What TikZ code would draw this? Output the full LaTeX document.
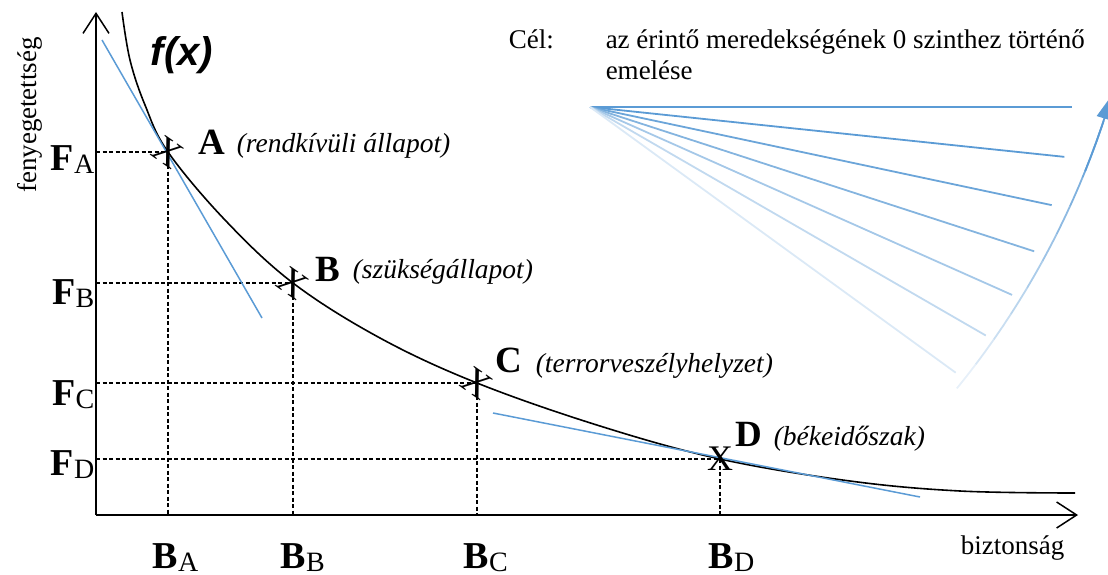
\documentclass[tikz,border=0pt]{standalone}
\usepackage{fontspec}
\setmainfont{Liberation Serif}
\newfontfamily\fxfont{Liberation Sans}
\usetikzlibrary{arrows.meta}
\definecolor{tanblue}{RGB}{91,155,213}
\newcommand{\axlbl}[2]{\textbf{#1}\raisebox{-3pt}{\fontsize{28}{30}\selectfont #2}}

\begin{document}
\begin{tikzpicture}[x=1pt,y=-1pt,line width=1.5pt,every node/.style={inner sep=0pt},
  big/.style={font=\fontsize{38}{40}\selectfont},
  ptlbl/.style={font=\fontsize{37}{40}\selectfont\bfseries},
  txt/.style={font=\fontsize{27}{30}\selectfont},
  note/.style={font=\fontsize{27.5}{30}\selectfont\itshape},
  cross/.style={font=\fontsize{38}{40}\selectfont},
  guide/.style={line width=1.3pt,dash pattern=on 4pt off 2.5pt}]
\useasboundingbox (0,0) rectangle (1108,575);
\coordinate (O) at (96,515);
\coordinate (Ytop) at (96,12);
\coordinate (Xend) at (1078,515);
\coordinate (A) at (168,152);
\coordinate (B) at (293,283);
\coordinate (C) at (477,383);
\coordinate (D) at (720,459);
\coordinate (TA1) at (102,40);
\coordinate (TA2) at (262,318);
\coordinate (TD1) at (493,413);
\coordinate (TD2) at (920,497);
\coordinate (fan) at (590,107);
% axes
\draw[-{Straight Barb[length=20pt,width=26pt]}] (O) -- (Ytop);
\draw[-{Straight Barb[length=20pt,width=26pt]}] (O) -- (Xend);
% guides
\begin{scope}[guide]
\foreach \p in {A,B,C,D} {
  \draw (\p -| O) -- (\p);
  \draw (\p) -- (\p |- O);
}
\end{scope}
% curve
\draw[line width=1.6pt] plot[smooth,tension=0.6] coordinates {(122,12) (130,60) (145,105) (A) (225,220) (B) (380,338) (C) (600,426) (D) (850,481) (960,491) (1075,493)};
% tangents
\draw[tanblue] (TA1) -- (TA2);
\draw[tanblue] (TD1) -- (TD2);
% fan of slopes
\foreach \i/\op in {0/100,1/100,2/90,3/75,4/55,5/38,6/22}
  \draw[tanblue!\op!white,line width=1.8pt] (fan) -- ++({6*\i}:{482-5*\i});
\foreach \i in {0,...,9} {
  \pgfmathsetmacro\pa{39.1-2.07*\i}
  \pgfmathsetmacro\pb{39.1-2.07*(\i+1)}
  \pgfmathsetmacro\op{15+9*\i}
  \draw[tanblue!\op!white,line width=1.8pt] plot[domain=\pa:\pb,samples=5] ({298+849*cos(\x)},{-147+849*sin(\x)});
}
\draw[tanblue,line width=1.8pt,-{Triangle[length=24pt,width=16pt]}] plot[domain=22:16.6,samples=6] ({298+849*cos(\x)},{-147+849*sin(\x)});
% marks
\node[cross,rotate=-35] (xa) at (A) {X};
\node[cross,rotate=-35] (xb) at (B) {X};
\node[cross,rotate=-35] (xc) at (C) {X};
\node[cross,font=\fontsize{36}{38}\selectfont] (xd) at (D) {X};
% labels
\node[ptlbl,anchor=base west] (la) at (198,154) {A};
\node[ptlbl,anchor=base west] (lb) at (315,281) {B};
\node[ptlbl,anchor=base west] (lc) at (495,372) {C};
\node[ptlbl,anchor=base west] (ld) at (735,446) {D};
\node[note,anchor=base west] (na) at (236,153) {(rendkívüli állapot)};
\node[note,anchor=base west] (nb) at (352,278) {(szükségállapot)};
\node[note,anchor=base west] (nc) at (535,372) {(terrorveszélyhelyzet)};
\node[note,anchor=base west] (nd) at (773,445) {(békeidőszak)};
\node[big,anchor=base east] (fa) at (95,170) {\axlbl{F}{A}};
\node[big,anchor=base east] (fb) at (95,304) {\axlbl{F}{B}};
\node[big,anchor=base east] (fc) at (95,405) {\axlbl{F}{C}};
\node[big,anchor=base east] (fd) at (95,475) {\axlbl{F}{D}};
\node[big,anchor=base west] (ba) at (152,568) {\axlbl{B}{A}};
\node[big,anchor=base west] (bb) at (280,568) {\axlbl{B}{B}};
\node[big,anchor=base west] (bc) at (463,568) {\axlbl{B}{C}};
\node[big,anchor=base west] (bd) at (708,568) {\axlbl{B}{D}};
\node[anchor=base west,font=\fxfont\fontsize{40}{44}\selectfont\bfseries\itshape] (fx) at (150,66) {f(x)};
\node[txt,anchor=base west] (goal) at (508,49) {Cél:};
\node[txt,anchor=base west] (aim1) at (605,49) {az érintő meredekségének 0 szinthez történő};
\node[txt,anchor=base west] (aim2) at (605,80) {emelése};
\node[txt,rotate=90,anchor=base] (ylab) at (36,115) {fenyegetettség};
\node[txt,anchor=base west] (xlab) at (960,554) {biztonság};
\end{tikzpicture}
\end{document}
